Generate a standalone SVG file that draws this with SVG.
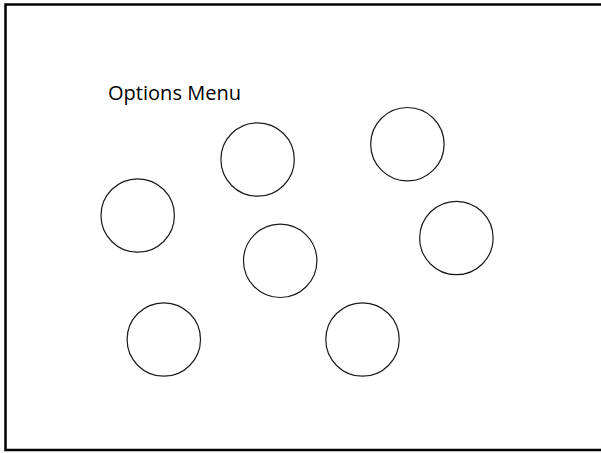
<svg xmlns="http://www.w3.org/2000/svg" width="601" height="453" viewBox="0 0 601 453">
<style>
.node{fill:#fff;stroke:#1a1a1a;stroke-width:1.2}
.frame{fill:#fff;stroke:#000;stroke-width:2.5}
.label{font-family:"Open Sans","Liberation Sans",Arial,sans-serif;font-size:20px;fill:#000}
</style>
<rect class="frame" x="5.5" y="4.5" width="600" height="445.5"/>
<text class="label" x="108" y="100" textLength="133" lengthAdjust="spacingAndGlyphs">Options Menu</text>
<g id="connectors"></g>
<g id="node1"><circle class="node" cx="257.6" cy="159.5" r="36.7"/></g>
<g id="node2"><circle class="node" cx="407.4" cy="144.2" r="36.7"/></g>
<g id="node3"><circle class="node" cx="137.7" cy="215.5" r="36.7"/></g>
<g id="node4"><circle class="node" cx="280.2" cy="260.8" r="36.7"/></g>
<g id="node5"><circle class="node" cx="456.4" cy="238" r="36.7"/></g>
<g id="node6"><circle class="node" cx="163.8" cy="339.5" r="36.7"/></g>
<g id="node7"><circle class="node" cx="362.5" cy="339.5" r="36.7"/></g>
</svg>
